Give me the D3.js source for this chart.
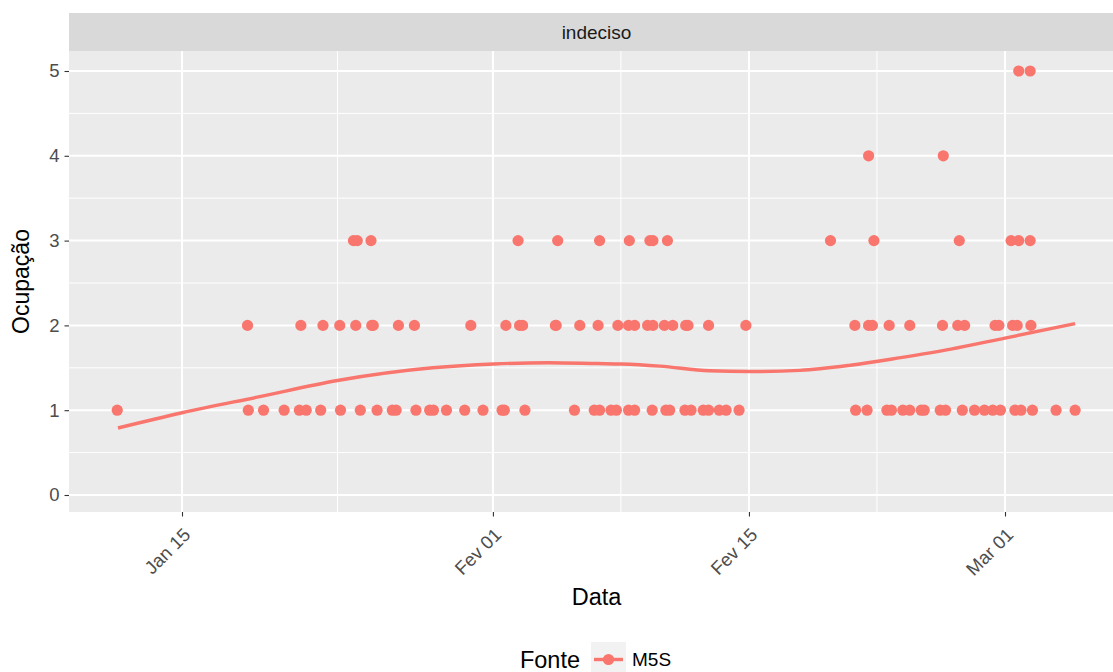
<!DOCTYPE html>
<html>
<head>
<meta charset="utf-8">
<script src="https://cdn.jsdelivr.net/npm/d3@7"></script>
<style>
  html, body { margin: 0; padding: 0; background: #ffffff; }
  svg { display: block; font-family: "Liberation Sans", Arial, sans-serif; }
</style>
</head>
<body>
<svg id="chart" width="1113" height="672"></svg>
<script>
// Observations of "indeciso" per reading time, grouped by value
const ones = [
  "2018-01-11 11:00", "2018-01-18 15:00", "2018-01-19 11:00", "2018-01-20 14:00",
  "2018-01-21 10:00", "2018-01-21 19:00", "2018-01-22 14:00", "2018-01-23 16:00",
  "2018-01-24 18:00", "2018-01-25 16:00", "2018-01-26 12:00", "2018-01-26 17:00",
  "2018-01-27 19:00", "2018-01-28 13:00", "2018-01-28 18:00", "2018-01-29 11:00",
  "2018-01-30 11:00", "2018-01-31 11:00", "2018-02-01 12:00", "2018-02-01 15:00",
  "2018-02-02 18:00", "2018-02-05 11:00", "2018-02-06 13:00", "2018-02-06 20:00",
  "2018-02-07 11:00", "2018-02-07 18:00", "2018-02-08 10:00", "2018-02-08 18:00",
  "2018-02-09 17:00", "2018-02-10 11:00", "2018-02-10 16:00", "2018-02-11 12:00",
  "2018-02-11 20:00", "2018-02-12 12:00", "2018-02-12 19:00", "2018-02-13 09:00",
  "2018-02-13 18:00", "2018-02-14 11:00", "2018-02-20 20:00", "2018-02-21 11:00",
  "2018-02-22 13:00", "2018-02-22 19:00", "2018-02-23 10:00", "2018-02-23 19:00",
  "2018-02-24 10:00", "2018-02-24 14:00", "2018-02-25 11:00", "2018-02-25 18:00",
  "2018-02-26 16:00", "2018-02-27 08:00", "2018-02-27 21:00", "2018-02-28 08:00",
  "2018-02-28 18:00", "2018-03-01 13:00", "2018-03-01 21:00", "2018-03-02 12:00",
  "2018-03-03 19:00", "2018-03-04 20:00"
];
const twos = [
  "2018-01-18 14:00", "2018-01-21 12:00", "2018-01-22 17:00", "2018-01-23 15:00",
  "2018-01-24 12:00", "2018-01-25 09:00", "2018-01-25 11:00", "2018-01-26 20:00",
  "2018-01-27 17:00", "2018-01-30 19:00", "2018-02-01 17:00", "2018-02-02 11:00",
  "2018-02-02 15:00", "2018-02-04 10:00", "2018-02-04 11:00", "2018-02-05 18:00",
  "2018-02-06 18:00", "2018-02-07 20:00", "2018-02-08 10:00", "2018-02-08 18:00",
  "2018-02-09 11:00", "2018-02-09 18:00", "2018-02-10 09:00", "2018-02-10 20:00",
  "2018-02-11 13:00", "2018-02-11 16:00", "2018-02-12 19:00", "2018-02-14 20:00",
  "2018-02-20 19:00", "2018-02-21 13:00", "2018-02-21 18:00", "2018-02-22 16:00",
  "2018-02-23 19:00", "2018-02-25 14:00", "2018-02-26 10:00", "2018-02-26 19:00",
  "2018-02-28 11:00", "2018-02-28 16:00", "2018-03-01 10:00", "2018-03-01 16:00",
  "2018-03-02 10:00"
];
const threes = [
  "2018-01-24 09:00", "2018-01-24 14:00", "2018-01-25 08:00", "2018-02-02 09:00",
  "2018-02-04 13:00", "2018-02-06 20:00", "2018-02-08 11:00", "2018-02-09 14:00",
  "2018-02-09 18:00", "2018-02-10 13:00", "2018-02-19 11:00", "2018-02-21 20:00",
  "2018-02-26 12:00", "2018-03-01 08:00", "2018-03-01 18:00", "2018-03-02 09:00"
];
const fours = ["2018-02-21 13:00", "2018-02-25 15:00"];
const fives = ["2018-03-01 18:00", "2018-03-02 09:00"];

// Smoothed trend (loess)
const smoothDates = [
  "2018-01-11 12:00", "2018-01-15 00:00", "2018-01-19 06:00", "2018-01-23 12:00",
  "2018-01-28 17:00", "2018-02-01 01:00", "2018-02-04 01:00", "2018-02-06 17:00",
  "2018-02-08 00:00", "2018-02-10 03:00", "2018-02-12 20:00", "2018-02-15 00:00",
  "2018-02-17 19:00", "2018-02-20 13:00", "2018-02-23 07:00", "2018-02-26 01:00",
  "2018-03-01 00:00", "2018-03-04 20:00"
];
const smoothValues = [
  0.79, 0.97, 1.16, 1.35,
  1.50, 1.545, 1.56, 1.55,
  1.545, 1.52, 1.465, 1.456,
  1.47, 1.53, 1.62, 1.72,
  1.85, 2.02
];

const yTicks = [0, 1, 2, 3, 4, 5];
const xTicks = ["2018-01-15", "2018-02-01", "2018-02-15", "2018-03-01"];
const xTickLabels = ["Jan 15", "Fev 01", "Fev 15", "Mar 01"];
const facetLabel = "indeciso";
const seriesName = "M5S";

const parseTime = d3.utcParse("%Y-%m-%d %H:%M");
const parseDay = d3.utcParse("%Y-%m-%d");

const color = "#F8766D";
const font = "Liberation Sans, Arial, sans-serif";
const svg = d3.select("#chart");

// Panel geometry
const panel = { left: 69, right: 1124, top: 51, bottom: 512 };
const strip = { top: 13, bottom: 51 };

const x = d3.scaleUtc()
  .domain([parseDay("2018-01-15"), parseDay("2018-03-01")])
  .range([182, 1005]);
const y = d3.scaleLinear().domain([0, 5]).range([495, 71]);

// Strip
svg.append("rect")
  .attr("x", panel.left).attr("y", strip.top)
  .attr("width", panel.right - panel.left).attr("height", strip.bottom - strip.top)
  .attr("fill", "#d9d9d9");
svg.append("text")
  .attr("x", (panel.left + panel.right) / 2).attr("y", (strip.top + strip.bottom) / 2)
  .attr("dy", "0.35em").attr("text-anchor", "middle")
  .attr("font-size", 19).attr("fill", "#1a1a1a")
  .text(facetLabel);

// Panel background
svg.append("rect")
  .attr("x", panel.left).attr("y", panel.top)
  .attr("width", panel.right - panel.left).attr("height", panel.bottom - panel.top)
  .attr("fill", "#ebebeb");

const grid = svg.append("g");
// Minor grid lines (midway between majors)
const yMinor = d3.range(0.5, 5.5, 1);
grid.selectAll(".ymin").data(yMinor).enter().append("line")
  .attr("x1", panel.left).attr("x2", panel.right)
  .attr("y1", d => y(d)).attr("y2", d => y(d))
  .attr("stroke", "#ffffff").attr("stroke-width", 1);
const xMajorDates = xTicks.map(parseDay);
const xMinor = [];
for (let i = 0; i < xMajorDates.length - 1; i++) {
  xMinor.push(new Date((+xMajorDates[i] + +xMajorDates[i + 1]) / 2));
}
grid.selectAll(".xmin").data(xMinor).enter().append("line")
  .attr("y1", panel.top).attr("y2", panel.bottom)
  .attr("x1", d => x(d)).attr("x2", d => x(d))
  .attr("stroke", "#ffffff").attr("stroke-width", 1);
// Major grid lines
grid.selectAll(".ymaj").data(yTicks).enter().append("line")
  .attr("x1", panel.left).attr("x2", panel.right)
  .attr("y1", d => y(d)).attr("y2", d => y(d))
  .attr("stroke", "#ffffff").attr("stroke-width", 2);
grid.selectAll(".xmaj").data(xMajorDates).enter().append("line")
  .attr("y1", panel.top).attr("y2", panel.bottom)
  .attr("x1", d => x(d)).attr("x2", d => x(d))
  .attr("stroke", "#ffffff").attr("stroke-width", 2);

// Points
const points = [];
[[ones, 1], [twos, 2], [threes, 3], [fours, 4], [fives, 5]].forEach(([arr, v]) => {
  arr.forEach(s => points.push({ t: parseTime(s), v }));
});
svg.append("g").selectAll("circle").data(points).enter().append("circle")
  .attr("cx", d => x(d.t)).attr("cy", d => y(d.v))
  .attr("r", 5.6).attr("fill", color);

// Smooth line
const smooth = smoothDates.map((s, i) => ({ t: parseTime(s), v: smoothValues[i] }));
svg.append("path")
  .datum(smooth)
  .attr("d", d3.line().x(d => x(d.t)).y(d => y(d.v)).curve(d3.curveMonotoneX))
  .attr("fill", "none").attr("stroke", color).attr("stroke-width", 3.4);

// Y axis
const yAxis = d3.axisLeft(y).tickValues(yTicks).tickSize(4.5).tickPadding(5).tickFormat(d3.format("d"));
const gy = svg.append("g").attr("transform", `translate(${panel.left},0)`).call(yAxis);
gy.select(".domain").remove();
gy.selectAll(".tick line").attr("stroke", "#333333").attr("stroke-width", 1.1);
gy.selectAll(".tick text").attr("fill", "#4d4d4d").attr("font-size", 18.5)
  .attr("font-family", font);

// X axis
const xAxis = d3.axisBottom(x).tickValues(xMajorDates).tickSize(4.5)
  .tickFormat((d, i) => xTickLabels[i]);
const gx = svg.append("g").attr("transform", `translate(0,${panel.bottom})`).call(xAxis);
gx.select(".domain").remove();
gx.selectAll(".tick line").attr("stroke", "#333333").attr("stroke-width", 1.1);
gx.selectAll(".tick text")
  .attr("fill", "#4d4d4d").attr("font-size", 18.5)
  .attr("font-family", font)
  .attr("text-anchor", "end")
  .attr("dy", null)
  .attr("y", 0)
  .attr("transform", "translate(9,24) rotate(-45)");

// Axis titles
svg.append("text")
  .attr("x", (panel.left + panel.right) / 2).attr("y", 605)
  .attr("text-anchor", "middle").attr("font-size", 23.5).attr("fill", "#000")
  .text("Data");
svg.append("text")
  .attr("transform", `translate(29,${(panel.top + panel.bottom) / 2}) rotate(-90)`)
  .attr("text-anchor", "middle").attr("font-size", 23).attr("fill", "#000")
  .text("Ocupação");

// Legend
const legend = svg.append("g");
legend.append("text")
  .attr("x", 580).attr("y", 668).attr("text-anchor", "end")
  .attr("font-size", 23.5).attr("fill", "#000").text("Fonte");
legend.append("rect")
  .attr("x", 591).attr("y", 642).attr("width", 35).attr("height", 35)
  .attr("fill", "#f2f2f2");
legend.append("line")
  .attr("x1", 594).attr("x2", 623).attr("y1", 659.5).attr("y2", 659.5)
  .attr("stroke", color).attr("stroke-width", 3.4);
legend.append("circle")
  .attr("cx", 608.5).attr("cy", 659.5).attr("r", 5.6).attr("fill", color);
legend.append("text")
  .attr("x", 632).attr("y", 666).attr("font-size", 19).attr("fill", "#000")
  .text(seriesName);
</script>
</body>
</html>
